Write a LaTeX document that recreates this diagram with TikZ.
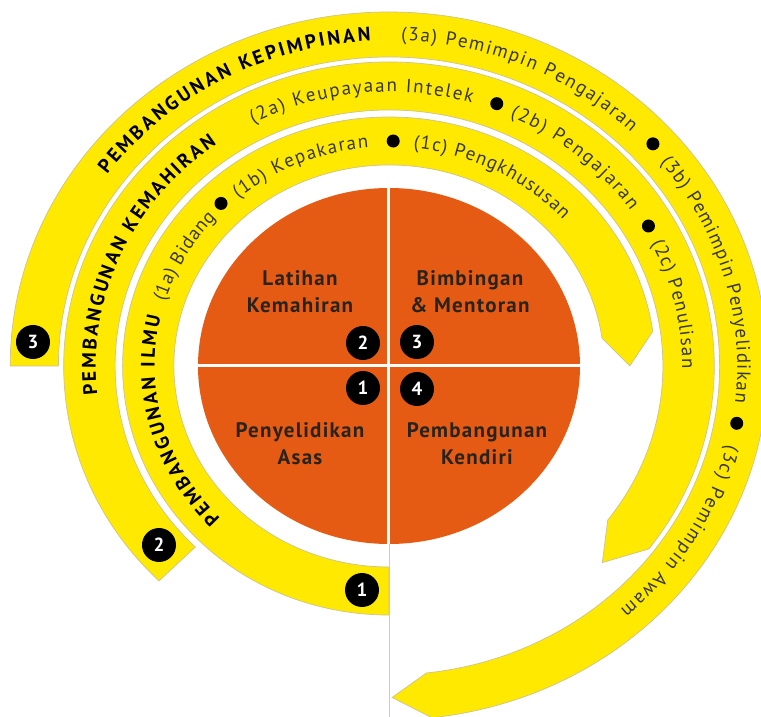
\documentclass[tikz,border=0pt]{standalone}
\usepackage{fontspec}
\setmainfont{PT Sans}
\usetikzlibrary{decorations.text}
\definecolor{bandyellow}{RGB}{255,233,0}
\definecolor{bandedge}{RGB}{205,195,140}
\definecolor{disc}{RGB}{229,91,19}
\definecolor{tgray}{RGB}{55,55,55}
\definecolor{qtext}{RGB}{40,35,30}
\newcommand\arcfnt{\fontsize{19}{19}\selectfont}
\newcommand\ttlfnt{\bfseries\fontsize{19.5}{19.5}\selectfont}
\begin{document}
\begin{tikzpicture}[x=1pt,y=1pt,
 band/.style={fill=bandyellow, draw=bandedge, line width=0.7pt},
 badge/.style={circle, fill=black, inner sep=0pt, minimum size=34pt, text=white, font=\bfseries\fontsize{19}{19}\selectfont},
 dotmark/.style={circle, fill=black, inner sep=0pt, minimum size=13pt},
 quadlabel/.style={align=center, text=qtext, font=\bfseries\fontsize{21}{27}\selectfont\addfontfeature{LetterSpace=6}},
 arctext/.style={decorate, decoration={text along path, text align={fit to path}, text color=tgray, text={|\arcfnt|#1}}},
 arctitle/.style={decorate, decoration={text along path, text align={fit to path}, text color=black, text={|\ttlfnt|#1}}},
]
\useasboundingbox (-389,-351) rectangle (372,366);
\clip (-389,-351) rectangle (372,366);
\fill[white] (-389,-351) rectangle (372,366);

% thin guide line below the disc
\draw[black!20, line width=0.8pt] (0,-178) -- (0,-351);

% band 1 : Pembangunan Ilmu
\filldraw[band] (270:215.1pt and 201pt) -- (270:266.4pt and 249pt)
  arc[start angle=270, end angle=8, x radius=266.4pt, y radius=249pt]
  -- (0:240.75pt and 225pt) -- (8:215.1pt and 201pt)
  arc[start angle=8, end angle=270, x radius=215.1pt, y radius=201pt] -- cycle;
% band 2 : Pembangunan Kemahiran
\filldraw[band] (225:273.9pt and 256pt) -- (225:325.3pt and 304pt)
  arc[start angle=225, end angle=-37, x radius=325.3pt, y radius=304pt]
  -- (-44.6:299.6pt and 280pt) -- (-37:273.9pt and 256pt)
  arc[start angle=-37, end angle=225, x radius=273.9pt, y radius=256pt] -- cycle;
% band 3 : Pembangunan Kepimpinan
\filldraw[band] (180:330.6pt and 309pt) -- (180:378.8pt and 354pt)
  arc[start angle=180, end angle=-83.5, x radius=378.8pt, y radius=354pt]
  -- (-89.5:354.7pt and 331.5pt) -- (-83.5:330.6pt and 309pt)
  arc[start angle=-83.5, end angle=180, x radius=330.6pt, y radius=309pt] -- cycle;

% central disc
\fill[disc] (0,0) ellipse [x radius=191pt, y radius=178pt];
\draw[white, line width=3pt] (0,178) -- (0,-178);
\draw[white, line width=3pt] (-191,0) -- (191,0);

% texts on band 1
\path[arctitle={PEMBANGUNAN ILMU}] (224:234.33pt and 219pt) arc[start angle=224, end angle=167, x radius=234.33pt, y radius=219pt];
\path[arctext={(1a) Bidang}] (163:234.33pt and 219pt) arc[start angle=163, end angle=137.5, x radius=234.33pt, y radius=219pt];
\path[arctext={(1b) Kepakaran}] (130:234.33pt and 219pt) arc[start angle=130, end angle=95, x radius=234.33pt, y radius=219pt];
\path[arctext={(1c) Pengkhususan}] (84:234.33pt and 219pt) arc[start angle=84, end angle=42, x radius=234.33pt, y radius=219pt];
% texts on band 2
\path[arctitle={PEMBANGUNAN KEMAHIRAN}] (186:293.18pt and 274pt) arc[start angle=186, end angle=126, x radius=293.18pt, y radius=274pt];
\path[arctext={(2a) Keupayaan Intelek}] (117.6:293.18pt and 274pt) arc[start angle=117.6, end angle=73.6, x radius=293.18pt, y radius=274pt];
\path[arctext={(2b) Pengajaran}] (65.6:293.18pt and 274pt) arc[start angle=65.6, end angle=34.5, x radius=293.18pt, y radius=274pt];
\path[arctext={(2c) Penulisan}] (26.5:293.18pt and 274pt) arc[start angle=26.5, end angle=-0.5, x radius=293.18pt, y radius=274pt];
% texts on band 3
\path[arctitle={PEMBANGUNAN KEPIMPINAN}] (144:348.29pt and 325.5pt) arc[start angle=144, end angle=93, x radius=348.29pt, y radius=325.5pt];
\path[arctext={(3a) Pemimpin Pengajaran}] (88:348.29pt and 325.5pt) arc[start angle=88, end angle=46, x radius=348.29pt, y radius=325.5pt];
\path[arctext={(3b) Pemimpin Penyelidikan}] (38.8:348.29pt and 325.5pt) arc[start angle=38.8, end angle=-6.4, x radius=348.29pt, y radius=325.5pt];
\path[arctext={(3c) Pemimpin Awam}] (-14:348.29pt and 325.5pt) arc[start angle=-14, end angle=-48.4, x radius=348.29pt, y radius=325.5pt];

% separators
\node[dotmark] (d1a) at (134:241.8pt and 226pt) {};
\node[dotmark] (d1b) at (89:240.75pt and 225pt) {};
\node[dotmark] (d2a) at (69:300.7pt and 281pt) {};
\node[dotmark] (d2b) at (30:299.6pt and 280pt) {};
\node[dotmark] (d3a) at (42:355.2pt and 332pt) {};
\node[dotmark] (d3b) at (-10:353.1pt and 330pt) {};

% quadrant labels
\node[quadlabel] (q2) at (-89,74) {Latihan\\Kemahiran};
\node[quadlabel] (q3) at (81,74) {Bimbingan\\\& Mentoran};
\node[quadlabel] (q1) at (-89,-78) {Penyelidikan\\Asas};
\node[quadlabel] (q4) at (88,-78) {Pembangunan\\Kendiri};

% badges
\node[badge] (c2) at (-26,23) {2};
\node[badge] (c3) at (28,24) {3};
\node[badge] (c1) at (-26,-22) {1};
\node[badge] (c4) at (28,-23) {4};
\node[badge] (a1) at (-27,-224) {1};
\node[badge] (a2) at (-230,-179) {2};
\node[badge] (a3) at (-356,24) {3};
\end{tikzpicture}
\end{document}
